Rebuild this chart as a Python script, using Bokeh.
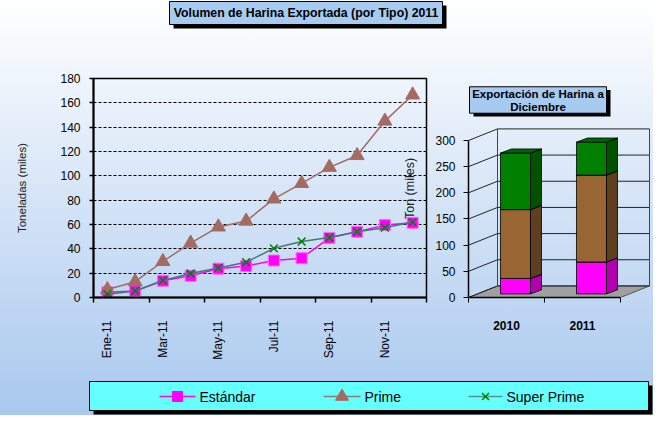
import math
from bokeh.plotting import figure
from bokeh.layouts import column, row
from bokeh.models import FixedTicker, Range1d, Label
from bokeh.core.properties import value
from bokeh.embed import file_html
from bokeh.resources import INLINE

# ---------------- data ----------------
months = ["Ene-11", "Feb-11", "Mar-11", "Abr-11", "May-11", "Jun-11",
          "Jul-11", "Ago-11", "Sep-11", "Oct-11", "Nov-11", "Dic-11"]
estandar = [4.3, 5.4, 13.7, 17.8, 23.7, 25.9, 30.4, 32.3, 49.0, 54.0, 59.5, 61.4]
prime = [6.5, 13.0, 29.6, 44.7, 58.0, 62.8, 81.0, 93.8, 107.0, 116.7, 145.0, 166.5]
super_prime = [2.7, 5.4, 14.0, 19.7, 24.3, 29.0, 40.4, 46.0, 49.3, 54.0, 57.4, 62.0]
left_ticks = [0, 20, 40, 60, 80, 100, 120, 140, 160, 180]

years = ["2010", "2011"]
dic_estandar = [29.5, 61.0]
dic_prime = [131.6, 166.0]
dic_super = [108.0, 63.0]
right_ticks = [0, 50, 100, 150, 200, 250, 300]

series_names = ["Estándar", "Prime", "Super Prime"]
title_left = "Volumen de Harina Exportada (por Tipo) 2011"
title_right = "Exportación de Harina a\nDiciembre"

# ---------------- style ----------------
FONT = "Liberation Sans"
C_EST = "#ff00ff"
C_PRIME = "#a36b62"
C_SUPER_LINE = "#3f7a78"
C_SUPER_MARK = "#008000"
BOX_BLUE = "#a6caf0"
FRONT = ["#ff00ff", "#996633", "#008000"]
SIDE = ["#b000b0", "#5e3f20", "#005200"]
TOP = ["#d000d0", "#7a5228", "#006600"]

W = 653
TITLE_H, ROW_H, LEG_H = 32, 345, 38
LEFT_W, RIGHT_W = 430, 223


def blank(width, height):
    p = figure(width=width, height=height, x_range=Range1d(0, width),
               y_range=Range1d(height, 0), x_axis_type=None, y_axis_type=None,
               output_backend="svg", toolbar_location=None, min_border=0)
    p.grid.visible = False
    p.outline_line_color = None
    p.background_fill_color = None
    p.border_fill_color = None
    return p


def style_text(r, size="12px", bold=False):
    r.glyph.text_font = value(FONT)
    r.glyph.text_font_size = size
    r.glyph.text_font_style = "bold" if bold else "normal"


# ---------------- title figure ----------------
tf = blank(W, TITLE_H)
tf.quad(left=[173], right=[446], top=[5], bottom=[28], fill_color="black", line_color=None)
tf.quad(left=[169], right=[442], top=[1], bottom=[24], fill_color=BOX_BLUE,
        line_color="black", line_width=1)
r = tf.text(x=[305.5], y=[12.8], text=[title_left], text_align="center",
            text_baseline="middle", text_color="black")
style_text(r, "12.3px", True)

# ---------------- line chart ----------------
xs = [i + 0.5 for i in range(len(months))]
pl = figure(width=LEFT_W, height=ROW_H, x_range=Range1d(0, len(months)),
            y_range=Range1d(left_ticks[0], left_ticks[-1]),
            output_backend="svg", toolbar_location=None,
            min_border_left=93, min_border_right=4, min_border_top=46, min_border_bottom=76)
pl.background_fill_color = None
pl.border_fill_color = None
pl.outline_line_color = "black"
pl.outline_line_width = 1.5
pl.xgrid.visible = False
pl.ygrid.grid_line_color = "black"
pl.ygrid.grid_line_dash = "3 2"
pl.ygrid.grid_line_width = 1

pl.yaxis.ticker = FixedTicker(ticks=left_ticks)
pl.yaxis.axis_label = "Toneladas (miles)"
pl.yaxis.axis_label_text_font = FONT
pl.yaxis.axis_label_text_font_size = "11.5px"
pl.yaxis.axis_label_text_font_style = "normal"
pl.yaxis.axis_label_text_color = "#222222"
pl.yaxis.axis_label_standoff = 29
pl.yaxis.major_label_text_font = FONT
pl.yaxis.major_label_text_font_size = "12px"
pl.yaxis.major_label_text_color = "black"
pl.yaxis.major_tick_out = 4
pl.yaxis.major_tick_in = 0
pl.yaxis.major_label_standoff = 9
pl.yaxis.minor_tick_line_color = None
pl.yaxis.axis_line_width = 2
pl.yaxis.major_tick_line_width = 1.5

lab_ticks = [i + 0.5 for i in range(0, len(months), 2)]
pl.xaxis.ticker = FixedTicker(ticks=lab_ticks, minor_ticks=list(range(0, len(months) + 1, 2)))
pl.xaxis.major_label_overrides = {i + 0.5: months[i] for i in range(0, len(months), 2)}
pl.xaxis.major_label_orientation = math.pi / 2
pl.xaxis.major_label_text_font = FONT
pl.xaxis.major_label_text_font_size = "12px"
pl.xaxis.major_label_text_color = "black"
pl.xaxis.major_label_standoff = 18
pl.xaxis.major_tick_out = 0
pl.xaxis.major_tick_in = 0
pl.xaxis.minor_tick_out = 5
pl.xaxis.minor_tick_in = 0
pl.xaxis.minor_tick_line_color = "black"
pl.xaxis.minor_tick_line_width = 1.5
pl.xaxis.axis_line_width = 2

pl.line(xs, estandar, line_color=C_EST, line_width=1.5)
pl.scatter(xs, estandar, marker="square", size=11, fill_color=C_EST, line_color="#ff66ff")
pl.line(xs, prime, line_color=C_PRIME, line_width=1.5)
pl.scatter(xs, prime, marker="triangle", size=14, fill_color=C_PRIME, line_color=C_PRIME)
pl.line(xs, super_prime, line_color=C_SUPER_LINE, line_width=1.5)
pl.scatter(xs, super_prime, marker="x", size=11, line_color=C_SUPER_MARK, line_width=1.5)

pl.add_layout(Label(x=11.42, y=89.6, text="Ton (miles)", angle=math.pi / 2,
                    text_align="center", text_baseline="middle",
                    text_font=FONT, text_font_size="12.5px", text_color="#222222"))

# ---------------- 3D stacked bar chart ----------------
PXX, PXY = 76.0, 0.6333          # pixels per data unit (x, y)
YEND = 265 / PXY
pr = figure(width=RIGHT_W, height=ROW_H, x_range=Range1d(0, 183 / PXX),
            y_range=Range1d(0, YEND), output_backend="svg", toolbar_location=None,
            min_border_left=38, min_border_right=2, min_border_top=0, min_border_bottom=80)
pr.background_fill_color = None
pr.border_fill_color = None
pr.outline_line_color = None
pr.grid.visible = False

DX, DY = 29 / PXX, 14 / PXY        # depth of the floor
F0 = 0.31                          # where the bars sit inside that depth
BDX, BDY = 11 / PXX, 5 / PXY       # depth of each bar
BW = 30 / PXX
n_cat = len(years)

# floor
pr.patch([0, n_cat, n_cat + DX, DX], [0, 0, DY, DY], fill_color="#a0a0a0",
         line_color="#555555", line_width=1)
# walls
ymax = right_ticks[-1]
pr.segment(x0=[DX] * len(right_ticks), y0=[v + DY for v in right_ticks],
           x1=[n_cat + DX] * len(right_ticks), y1=[v + DY for v in right_ticks],
           line_color="#222222", line_width=1)
pr.segment(x0=[0] * len(right_ticks), y0=right_ticks,
           x1=[DX] * len(right_ticks), y1=[v + DY for v in right_ticks],
           line_color="#222222", line_width=1)
pr.segment(x0=[DX, n_cat + DX], y0=[DY, DY], x1=[DX, n_cat + DX], y1=[ymax + DY, ymax + DY],
           line_color="#444444", line_width=1)

stacks = [dic_estandar, dic_prime, dic_super]
for i in range(n_cat):
    base = 0.0
    x0 = i + 0.5 - BW / 2 + F0 * DX
    x1 = x0 + BW
    oy = F0 * DY
    for s, vals in enumerate(stacks):
        b = base + oy
        t = base + vals[i] + oy
        pr.quad(left=[x0], right=[x1], bottom=[b], top=[t], fill_color=FRONT[s],
                line_color="black", line_width=0.8)
        pr.patch([x1, x1 + BDX, x1 + BDX, x1], [b, b + BDY, t + BDY, t],
                 fill_color=SIDE[s], line_color="black", line_width=0.8)
        pr.patch([x0, x0 + BDX, x1 + BDX, x1], [t, t + BDY, t + BDY, t],
                 fill_color=TOP[s], line_color="black", line_width=0.8)
        base += vals[i]

pr.yaxis.ticker = FixedTicker(ticks=right_ticks)
pr.yaxis.bounds = (right_ticks[0], right_ticks[-1])
pr.yaxis.major_label_text_font = FONT
pr.yaxis.major_label_text_font_size = "12px"
pr.yaxis.major_label_text_color = "black"
pr.yaxis.major_tick_out = 5
pr.yaxis.major_tick_in = 0
pr.yaxis.major_label_standoff = 8
pr.yaxis.minor_tick_line_color = None
pr.yaxis.axis_line_width = 1.5

pr.xaxis.ticker = FixedTicker(ticks=[i + 0.5 for i in range(n_cat)],
                              minor_ticks=list(range(n_cat + 1)))
pr.xaxis.bounds = (0, n_cat)
pr.xaxis.major_label_overrides = {i + 0.5: y for i, y in enumerate(years)}
pr.xaxis.major_label_text_font = FONT
pr.xaxis.major_label_text_font_size = "12px"
pr.xaxis.major_label_text_font_style = "bold"
pr.xaxis.major_label_text_color = "black"
pr.xaxis.major_label_standoff = 18
pr.xaxis.major_tick_out = 0
pr.xaxis.major_tick_in = 0
pr.xaxis.minor_tick_out = 5
pr.xaxis.minor_tick_in = 0
pr.xaxis.minor_tick_line_color = "black"
pr.xaxis.axis_line_width = 1.5


def px_x(px):   # reference pixel (page) -> data x of the bar figure
    return (px - 476) / PXX


def px_y(py):
    return (305 - py) / PXY


pr.quad(left=[px_x(481)], right=[px_x(618)], top=[px_y(54)], bottom=[px_y(86)],
        fill_color="black", line_color=None)
pr.quad(left=[px_x(477)], right=[px_x(614)], top=[px_y(50)], bottom=[px_y(82)],
        fill_color=BOX_BLUE, line_color="black", line_width=1)
tl = title_right.split("\n")
r = pr.text(x=[px_x(545.5)] * 2, y=[px_y(58.5), px_y(74.5)], text=tl, text_align="center",
            text_baseline="middle", text_color="black")
style_text(r, "11.5px", True)

# ---------------- legend ----------------
lf = blank(W, LEG_H)
lf.quad(left=[93], right=[652], top=[8], bottom=[37], fill_color="black", line_color=None)
lf.quad(left=[89], right=[648], top=[4], bottom=[33], fill_color="#66ffff",
        line_color="black", line_width=1)
ly = 19
items = [
    (159, 195, C_EST, "square", C_EST, 10),
    (323, 360, "#8f7a74", "triangle", C_PRIME, 13),
    (468, 502, "#5f8f8c", "x", C_SUPER_MARK, 10),
]
for (a, b, lc, mk, mc, ms), name in zip(items, series_names):
    lf.line([a, b], [ly, ly], line_color=lc, line_width=1.5)
    if mk == "x":
        lf.scatter([(a + b) / 2], [ly], marker=mk, size=ms, line_color=mc, line_width=1.5)
    else:
        lf.scatter([(a + b) / 2], [ly], marker=mk, size=ms, fill_color=mc, line_color=mc)
    r = lf.text(x=[b + 4], y=[ly + 0.5], text=[name], text_align="left",
                text_baseline="middle", text_color="black")
    style_text(r, "14px", False)

layout = column(tf, row(pl, pr), lf,
                styles={"background": "linear-gradient(180deg, #ffffff 0%, #a8c8ee 100%)"})

open("out.html", "w").write(file_html(layout, INLINE))
